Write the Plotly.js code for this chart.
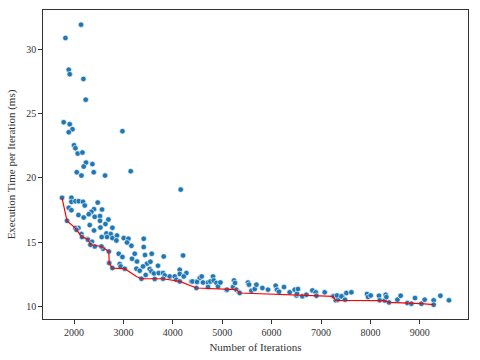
<!DOCTYPE html>
<html>
<head>
<meta charset="utf-8">
<script src="https://cdn.plot.ly/plotly-3.0.1.min.js"></script>
<style>
	html, body { margin: 0; padding: 0; background: #ffffff; }
	#plot { width: 480px; height: 360px; }
</style>
</head>
<body>
<div id="plot"></div>
<script>
// Scatter of runs: iterations vs execution time per iteration (ms)
const iterations = [
	1826, 2142, 1893, 1913, 2190, 2237, 1791, 1913, 1968, 1893,
	2980, 2000, 2028, 2075, 2170, 2243, 2372, 2196, 2055, 2150,
	2399, 2628, 3148, 4160, 1757, 1947, 1947, 2028, 2095, 2182,
	2217, 2480, 1893, 1947, 2405, 2567, 2352, 2298, 2089, 2196,
	2419, 2526, 2526, 2696, 1858, 2318, 2534, 2636, 2777, 2089,
	2028, 2405, 2656, 2743, 2870, 2561, 2668, 3006, 3101, 3411,
	2150, 2271, 2049, 2162, 2283, 2364, 2777, 2858, 3073, 3162,
	3411, 2419, 2587, 2905, 2980, 3174, 3229, 3275, 3437, 3573,
	3478, 3397, 2925, 2945, 3532, 3700, 3816, 4207, 3263, 3330,
	3451, 3567, 3619, 3715, 3802, 3836, 3937, 4039, 4140, 4140,
	4275, 4221, 4377, 4478, 4478, 4545, 3634, 4073, 3546, 2332,
	2555, 2705, 2712, 2777, 3026, 3364, 3802, 4140,
	4397, 4490, 4585, 4611, 4713, 4713, 4761, 4814, 4828, 4883,
	4915, 4964, 5085, 5097, 5219, 5239, 5259, 5287, 5340, 5354,
	5522, 5543, 5591, 5658, 5692, 5813, 5927, 6083, 6109, 6150,
	6251, 6366, 6468, 6502, 6514, 6534, 6623, 6704, 6826, 6893,
	6907, 7075, 7243, 7298, 7344, 7433, 7514,
	7257, 7324, 7413, 7486, 7615, 7931, 7952, 8006, 8174, 8188,
	8290, 8310, 8324, 8377, 8547, 8613, 8749, 8830, 8903, 9032,
	9099, 9281, 9281, 9417, 9591
];
const timePerIter = [
	30.86, 31.90, 28.40, 28.05, 27.68, 26.07, 24.32, 24.16, 23.77, 23.54,
	23.62, 22.53, 22.30, 21.88, 21.96, 21.18, 21.06, 20.87, 20.43, 20.17,
	20.43, 20.17, 20.51, 19.08, 18.44, 18.44, 18.13, 18.18, 18.18, 18.13,
	17.84, 18.07, 17.66, 17.48, 17.56, 17.53, 17.35, 17.17, 17.10, 16.91,
	16.96, 17.02, 16.65, 16.75, 16.65, 16.32, 16.13, 16.40, 16.11, 16.09,
	16.09, 15.90, 15.67, 15.62, 15.51, 15.39, 15.39, 15.31, 15.26, 15.26,
	15.62, 15.23, 15.95, 15.39, 15.18, 15.02, 15.31, 15.12, 14.97, 14.71,
	14.61, 14.66, 14.48, 14.09, 13.84, 13.70, 14.09, 13.49, 13.99, 14.09,
	13.32, 13.11, 13.29, 13.11, 12.90, 13.16, 13.88, 13.96, 12.93, 12.77,
	12.44, 12.72, 12.56, 12.59, 12.59, 12.41, 12.33, 12.33, 12.85, 12.52,
	12.59, 12.33, 11.94, 11.94, 11.43, 12.20, 12.13, 12.07, 13.47, 14.79,
	14.66, 14.27, 13.37, 12.98, 12.93, 12.15, 12.15, 11.94,
	11.94, 11.90, 12.33, 11.86, 11.86, 11.50, 11.94, 12.33, 12.02, 11.82,
	11.55, 11.86, 11.30, 11.30, 11.50, 12.02, 11.82, 11.30, 11.09, 11.04,
	11.86, 11.69, 11.22, 11.35, 11.69, 11.43, 11.30, 11.61, 11.30, 11.14,
	11.50, 11.09, 11.30, 10.85, 10.99, 11.35, 10.78, 10.91, 11.24, 11.09,
	10.83, 11.09, 10.78, 10.47, 10.52, 10.78, 11.04,
	10.78, 10.85, 10.78, 10.52, 11.09, 10.96, 10.73, 10.85, 10.83, 10.47,
	10.45, 10.91, 10.73, 10.31, 10.52, 10.83, 10.26, 10.21, 10.65, 10.21,
	10.52, 10.47, 10.13, 10.83, 10.47
];

// Lower envelope (best time so far) drawn in red
const frontIterations = [
	1757, 1858, 2028, 2049, 2162, 2283, 2332, 2555, 2705, 2712,
	2777, 3026, 3263, 3364, 3802, 4140, 4478, 5085, 5287, 5354,
	6502, 7243, 7298, 8188, 8290, 8377, 8749, 9032, 9281
];
const frontTime = [
	18.44, 16.65, 16.09, 15.95, 15.39, 15.23, 14.79, 14.66, 14.27, 13.37,
	12.98, 12.93, 12.33, 12.15, 12.15, 11.94, 11.43, 11.30, 11.30, 11.04,
	10.85, 10.78, 10.47, 10.47, 10.45, 10.31, 10.26, 10.21, 10.13
];

const xTicks = [2000, 3000, 4000, 5000, 6000, 7000, 8000, 9000];
const yTicks = [10, 15, 20, 25, 30];

const FONT = "Liberation Serif, Times New Roman, serif";

const traces = [
	{
		x: iterations,
		y: timePerIter,
		type: "scatter",
		mode: "markers",
		marker: {
			color: "#1f77b4",
			size: 5.5,
			line: { color: "#ffffff", width: 0.6 },
		},
		hoverinfo: "skip",
		showlegend: false,
	},
	{
		x: frontIterations,
		y: frontTime,
		type: "scatter",
		mode: "lines",
		line: { color: "#ff0000", width: 1.2 },
		hoverinfo: "skip",
		showlegend: false,
	},
];

const axisStyle = {
	showgrid: false,
	zeroline: false,
	showline: true,
	mirror: true,
	linecolor: "#333333",
	linewidth: 1.2,
	ticks: "outside",
	ticklen: 3.5,
	tickwidth: 1,
	tickcolor: "#333333",
	tickfont: { family: FONT, size: 10, color: "#333333" },
	automargin: false,
};

let layout = {
	width: 480,
	height: 360,
	margin: { l: 43, r: 12, t: 10, b: 41 },
	paper_bgcolor: "#ffffff",
	plot_bgcolor: "#ffffff",
	font: { family: FONT, color: "#333333" },
	xaxis: Object.assign({}, axisStyle, {
		range: [1372, 9976],
		tickvals: xTicks,
		title: { text: "Number of Iterations", font: { family: FONT, size: 11, color: "#333333" }, standoff: 6 },
	}),
	yaxis: Object.assign({}, axisStyle, {
		range: [9.02, 33.04],
		tickvals: yTicks,
		title: { text: "Execution Time per Iteration (ms)", font: { family: FONT, size: 11, color: "#333333" }, standoff: 8 },
	}),
};

let config = {
	responsive: false,
	displayModeBar: false,
	staticPlot: true,
};

Plotly.newPlot("plot", traces, layout, config);
</script>
</body>
</html>
